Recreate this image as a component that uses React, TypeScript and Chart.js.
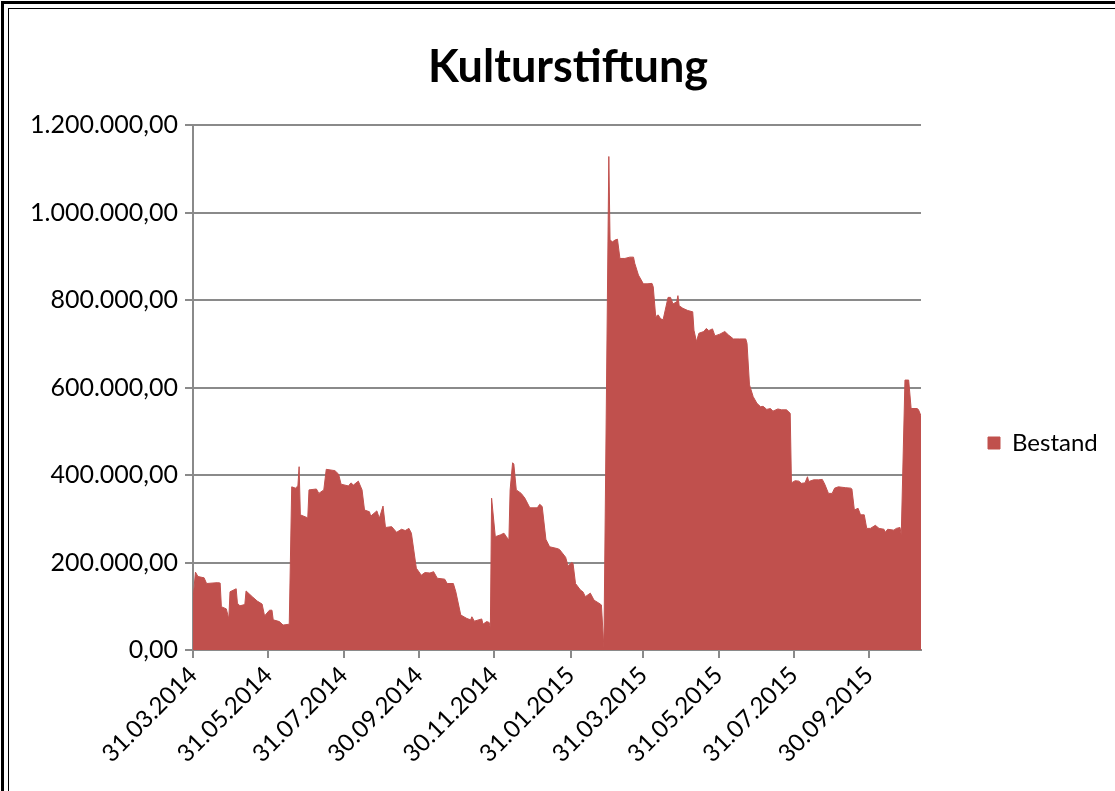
import React, { useEffect, useRef } from "react";
import { Chart, registerables } from "chart.js";

Chart.register(...registerables);

// ---- data ----
const chartTitle = "Kulturstiftung";
const seriesName = "Bestand";
const startDate = "31.03.2014";
// days since startDate
const days = [
  0, 2, 4, 9, 11, 20, 22, 23, 27, 29,
  30, 35, 36, 38, 42, 43, 48, 52, 56, 58,
  62, 64, 65, 70, 73, 78, 80, 83, 85, 86,
  87, 93, 94, 100, 102, 106, 108, 115, 118, 120,
  126, 128, 130, 134, 137, 139, 143, 144, 149, 151,
  154, 156, 161, 165, 169, 172, 175, 177, 181, 185,
  188, 192, 195, 198, 204, 206, 211, 213, 217, 222,
  225, 226, 228, 234, 235, 238, 240, 241, 242, 245,
  249, 252, 254, 256, 257, 259, 260, 262, 266, 269,
  273, 279, 281, 283, 286, 289, 295, 297, 302, 304,
  307, 308, 310, 314, 316, 318, 322, 325, 329, 331,
  333, 337, 338, 340, 342, 344, 346, 350, 354, 357,
  358, 361, 365, 368, 372, 373, 375, 377, 379, 381,
  385, 387, 389, 392, 393, 394, 397, 401, 405, 406,
  408, 410, 414, 416, 418, 421, 423, 427, 431, 434,
  438, 443, 448, 449, 451, 454, 457, 460, 462, 465,
  468, 470, 474, 477, 481, 484, 485, 488, 491, 493,
  496, 498, 499, 503, 507, 510, 512, 515, 518, 520,
  523, 529, 533, 534, 536, 539, 541, 544, 546, 549,
  553, 556, 560, 561, 563, 568, 570, 573, 574, 577,
  580, 582, 587, 588, 590,
];
// Bestand in thousands
const bestandK = [
  116, 178, 168, 165, 152, 154, 153, 99, 94, 71,
  133, 140, 107, 101, 104, 135, 122, 112, 105, 78,
  91, 91, 69, 65, 57, 59, 373, 370, 375, 419,
  309, 302, 366, 368, 358, 366, 413, 410, 402, 379,
  375, 382, 377, 386, 366, 320, 316, 306, 318, 301,
  329, 280, 282, 269, 276, 273, 278, 267, 187, 171,
  177, 176, 179, 164, 162, 152, 152, 133, 80, 72,
  69, 76, 66, 71, 59, 65, 63, 50, 347, 259,
  263, 267, 259, 251, 366, 428, 425, 366, 358, 347,
  325, 325, 333, 328, 253, 236, 232, 230, 212, 192,
  200, 198, 152, 137, 133, 122, 130, 114, 107, 103,
  5, 1128, 937, 933, 937, 939, 895, 895, 898, 898,
  884, 857, 837, 837, 838, 830, 762, 766, 757, 755,
  806, 806, 791, 796, 810, 787, 781, 776, 773, 731,
  705, 724, 728, 735, 730, 734, 718, 722, 728, 720,
  711, 711, 711, 701, 606, 579, 564, 556, 557, 550,
  552, 546, 551, 549, 549, 541, 382, 387, 386, 381,
  382, 396, 385, 389, 389, 390, 379, 358, 358, 370,
  373, 371, 370, 368, 320, 324, 309, 309, 278, 278,
  285, 278, 276, 269, 276, 274, 278, 280, 263, 617,
  617, 552, 552, 549, 535,
];
const tickLabels = [
  "31.03.2014", "31.05.2014", "31.07.2014", "30.09.2014", "30.11.2014",
  "31.01.2015", "31.03.2015", "31.05.2015", "31.07.2015", "30.09.2015",
];
const yMax = 1200000;
const yStep = 200000;

// ---- helpers ----
function parseDe(s: string) {
  const [d, m, y] = s.split(".").map(Number);
  return Date.UTC(y, m - 1, d);
}
function dayOffset(s: string) {
  return Math.round((parseDe(s) - parseDe(startDate)) / 86400000);
}
function formatDe(v: number) {
  const [i, dec] = v.toFixed(2).split(".");
  return i.replace(/\B(?=(\d{3})+(?!\d))/g, ".") + "," + dec;
}

// ---- layout ----
const W = 1136; // full chart width (view is cropped at 1115)
const H = 886; // full chart height (view is cropped at 791)
const VIEW_W = 1115;
const VIEW_H = 791;
const PLOT_LEFT = 193;
const PLOT_RIGHT = 921;
const PLOT_BOTTOM = 650;
const FONT = "Lato";
const X_TICK_SIZE = 24;
const Y_TICK_SIZE = 25;
const LEGEND_SIZE = 24;
const LEGEND_BOX = 12;
const LEGEND_PAD = 67;
const RED = "#C0504D";
const AXIS = "#8a8a8a";

export default function App() {
  const ref = useRef<HTMLCanvasElement | null>(null);
  useEffect(() => {
    if (!ref.current) return;
    const tickDays = tickLabels.map(dayOffset);

    // width of the legend box as Chart.js computes it, so the plot ends at PLOT_RIGHT
    const mctx = document.createElement("canvas").getContext("2d")!;
    mctx.font = `${LEGEND_SIZE}px ${FONT}`;
    const textW = mctx.measureText(seriesName).width;
    const legendW = LEGEND_PAD + LEGEND_BOX + LEGEND_SIZE / 2 + textW + 10;
    const padRight = Math.max(0, W - PLOT_RIGHT - legendW);
    // symmetric side padding keeps the title centred on the full chart width
    const padLeft = padRight;

    const chart = new Chart(ref.current, {
      type: "line",
      data: {
        datasets: [
          {
            label: seriesName,
            data: days.map((d, i) => ({ x: d, y: bestandK[i] * 1000 })),
            fill: "origin",
            backgroundColor: RED,
            borderColor: RED,
            borderWidth: 1,
            pointRadius: 0,
            tension: 0,
          },
        ],
      },
      options: {
        responsive: false,
        maintainAspectRatio: false,
        animation: false,
        layout: { padding: { left: padLeft, right: padRight, top: 0, bottom: 0 } },
        plugins: {
          title: {
            display: true,
            text: chartTitle,
            color: "#000",
            font: { family: FONT, size: 45, weight: "bold", lineHeight: 1.2 },
            padding: { top: 40, bottom: 31 },
          },
          legend: {
            position: "right",
            labels: {
              boxWidth: LEGEND_BOX,
              boxHeight: LEGEND_BOX,
              padding: LEGEND_PAD,
              color: "#000",
              font: { family: FONT, size: LEGEND_SIZE },
            },
          },
          tooltip: { enabled: false },
        },
        scales: {
          x: {
            type: "linear",
            min: 0,
            max: days[days.length - 1],
            afterBuildTicks: (s: any) => {
              s.ticks = tickDays.map((v) => ({ value: v }));
            },
            afterFit: (s: any) => {
              s.height = H - PLOT_BOTTOM;
            },
            ticks: {
              autoSkip: false,
              minRotation: 45,
              maxRotation: 45,
              color: "#000",
              font: { family: FONT, size: X_TICK_SIZE },
              callback: (_v: any, i: number) => tickLabels[i],
            },
            grid: {
              drawOnChartArea: false,
              drawTicks: true,
              tickLength: 8,
              color: AXIS,
              lineWidth: 2,
            },
            border: { color: AXIS, width: 2 },
          },
          y: {
            min: 0,
            max: yMax,
            afterFit: (s: any) => {
              s.width = PLOT_LEFT - padLeft;
            },
            ticks: {
              stepSize: yStep,
              padding: 7,
              color: "#000",
              font: { family: FONT, size: Y_TICK_SIZE },
              callback: (v: any) => formatDe(Number(v)),
            },
            grid: { color: AXIS, lineWidth: 2, tickLength: 8 },
            border: { color: AXIS, width: 2 },
          },
        },
      },
    });
    return () => chart.destroy();
  }, []);

  return (
    <div
      style={{
        position: "fixed",
        left: 0,
        top: 0,
        width: VIEW_W,
        height: VIEW_H,
        overflow: "hidden",
        background: "#fff",
      }}
    >
      <canvas ref={ref} width={W} height={H} style={{ position: "absolute", left: 0, top: 0 }} />
      <div
        style={{
          position: "absolute",
          left: 1,
          top: 1,
          width: 1300,
          height: 1300,
          borderLeft: "3px solid #000",
          borderTop: "3px solid #000",
          pointerEvents: "none",
        }}
      />
      <div
        style={{
          position: "absolute",
          left: 8,
          top: 8,
          width: 1300,
          height: 1300,
          borderLeft: "1px solid #000",
          borderTop: "1px solid #000",
          pointerEvents: "none",
        }}
      />
    </div>
  );
}
